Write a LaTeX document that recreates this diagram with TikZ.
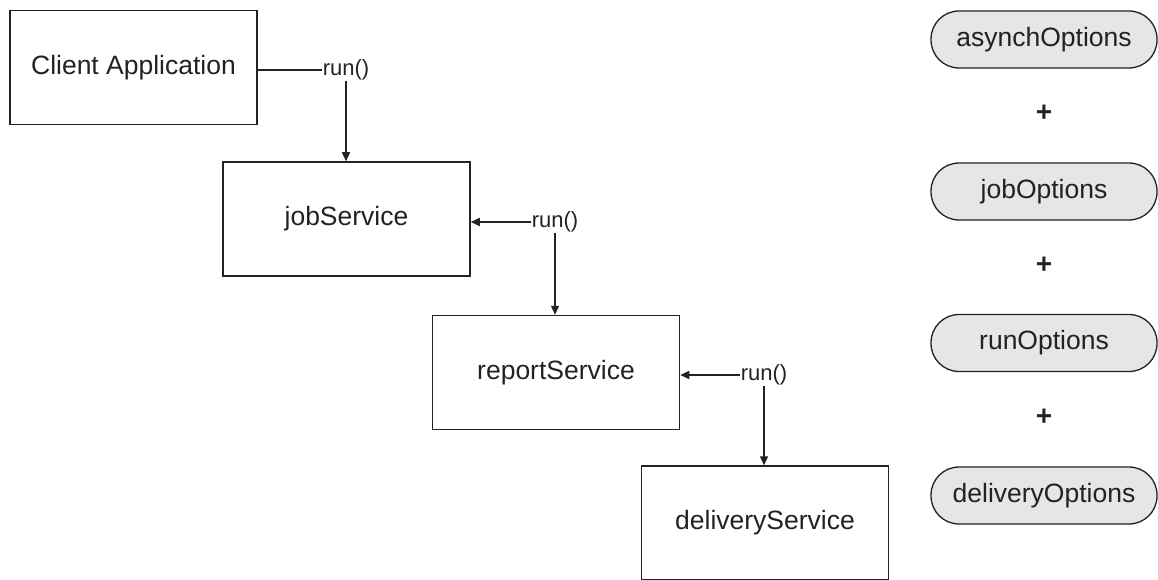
\documentclass[tikz,border=0pt]{standalone}
\usepackage{fontspec}
\setmainfont{Liberation Sans}
\usetikzlibrary{arrows.meta}
\definecolor{ink}{HTML}{222222}
\definecolor{pillfill}{HTML}{E6E6E6}
\begin{document}
\begin{tikzpicture}[x=1pt,y=-1pt,
  svcbox/.style={draw=ink,line width=1.5pt,minimum width=247pt,minimum height=114pt,inner sep=0pt,
    font=\fontsize{26.5}{30}\selectfont,text=ink},
  callbox/.style={inner sep=1pt,font=\fontsize{22}{25}\selectfont,text=ink},
  pill/.style={draw=ink,line width=1.3pt,fill=pillfill,rounded corners=28pt,minimum width=226pt,
    minimum height=57pt,inner sep=0pt,font=\fontsize{26.5}{30}\selectfont,text=ink},
  plus/.style={font=\fontsize{28}{30}\selectfont\bfseries,text=ink,inner sep=0pt},
  conn/.style={draw=ink,line width=1.5pt},
  arr/.style={conn,-{Triangle[length=9pt,width=8pt]}}]
\useasboundingbox (0,0) rectangle (1158,580);
% service boxes
\node[svcbox] (client) at (133.5,67.5) {Client Application};
\node[svcbox] (job) at (346.5,219) {jobService};
\node[svcbox] (report) at (556,372.5) {reportService};
\node[svcbox] (delivery) at (765,523) {deliveryService};
% call labels
\node[callbox] (run1) at (346,70) {run()};
\node[callbox] (run2) at (555,222) {run()};
\node[callbox] (run3) at (764,375) {run()};
% connectors
\draw[conn] (client.east |- run1.west) -- (run1.west);
\draw[arr] (run1.south) -- (run1.south |- job.north);
\draw[arr] (run2.west) -- (job.east |- run2.west);
\draw[arr] (run2.south) -- (run2.south |- report.north);
\draw[arr] (run3.west) -- (report.east |- run3.west);
\draw[arr] (run3.south) -- (run3.south |- delivery.north);
% option pills
\node[pill] (asynch) at (1044,39.5) {asynchOptions};
\node[plus] (p1) at (1044,113) {+};
\node[pill] (jobopt) at (1044,191.5) {jobOptions};
\node[plus] (p2) at (1044,265) {+};
\node[pill] (runopt) at (1044,343) {runOptions};
\node[plus] (p3) at (1044,417) {+};
\node[pill] (delopt) at (1044,495.5) {deliveryOptions};
\end{tikzpicture}
\end{document}
